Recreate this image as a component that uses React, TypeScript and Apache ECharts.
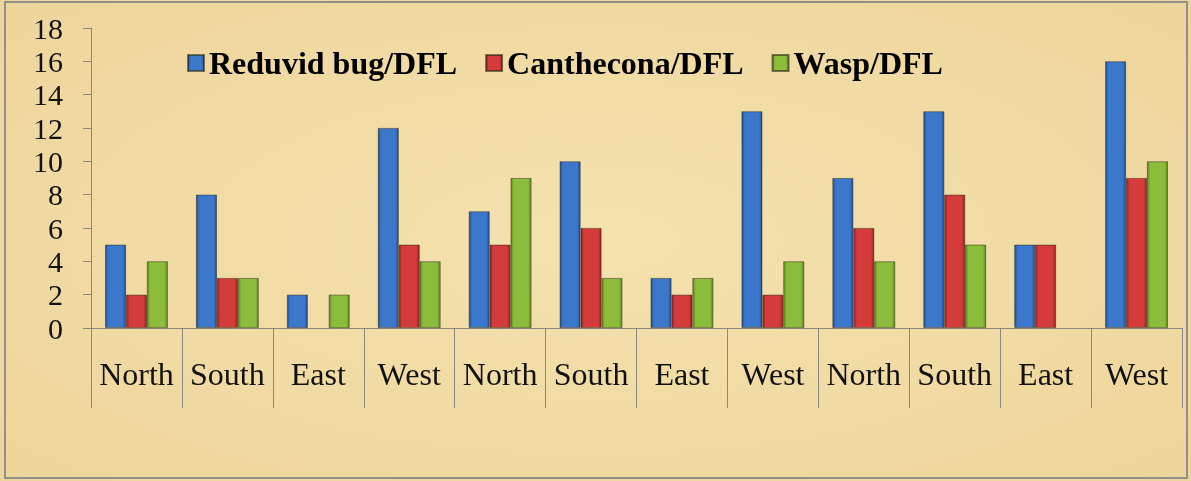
import React, { useEffect, useRef } from "react";
import * as echarts from "echarts";

const categories = ["North", "South", "East", "West", "North", "South", "East", "West", "North", "South", "East", "West"];
const reduvid = [5, 8, 2, 12, 7, 10, 3, 13, 9, 13, 5, 16];
const canthecona = [2, 3, 0, 5, 5, 6, 2, 2, 6, 8, 5, 9];
const wasp = [4, 3, 2, 4, 9, 3, 3, 4, 4, 5, 0, 10];
const seriesNames = ["Reduvid bug/DFL", "Canthecona/DFL", "Wasp/DFL"];

const serif = "'Liberation Serif', 'Times New Roman', serif";

function barGrad(dark: string, light: string) {
  return new echarts.graphic.LinearGradient(0, 0, 1, 0, [
    { offset: 0, color: dark },
    { offset: 0.15, color: light },
    { offset: 0.5, color: light },
    { offset: 0.85, color: light },
    { offset: 1, color: dark },
  ]);
}

export default function App() {
  const ref = useRef<HTMLDivElement>(null);
  useEffect(() => {
    if (!ref.current) return;
    const chart = echarts.init(ref.current, undefined, { renderer: "svg" });
    const colors = [
      { dark: "#1f4f98", light: "#3b78cc", sym: "#3a78cc" },
      { dark: "#9a1f22", light: "#d43b3b", sym: "#d23a3a" },
      { dark: "#5f8a1f", light: "#8cbc3c", sym: "#8cbc3c" },
    ];
    const datas = [reduvid, canthecona, wasp];
    chart.setOption({
      animation: false,
      backgroundColor: new echarts.graphic.RadialGradient(0.5, 0.5, 0.8, [
        { offset: 0, color: "#f5e2af" },
        { offset: 1, color: "#edd398" },
      ]),
      color: colors.map((c) => c.sym),
      graphic: [
        {
          type: "rect",
          shape: { x: 5, y: 2, width: 1182, height: 476 },
          style: { fill: "none", stroke: "#8f8f8f", lineWidth: 2 },
          silent: true,
        },
      ],
      legend: {
        left: 182,
        top: 42,
        itemWidth: 16,
        itemHeight: 16,
        itemGap: 28,
        icon: "rect",
        textStyle: { fontFamily: serif, fontWeight: "bold", fontSize: 32, color: "#000" },
        data: seriesNames,
      },
      grid: { left: 91, right: 9, top: 28, bottom: 153 },
      xAxis: {
        type: "category",
        data: categories,
        axisLine: { lineStyle: { color: "#8a8a80", width: 1 } },
        axisTick: { show: true, interval: 0, length: 80, lineStyle: { color: "#8a8a80" } },
        axisLabel: {
          interval: 0,
          fontFamily: serif,
          fontSize: 32,
          color: "#111",
          margin: 30,
        },
      },
      yAxis: {
        type: "value",
        min: 0,
        max: 18,
        interval: 2,
        axisLine: { show: true, lineStyle: { color: "#8a8a80" } },
        axisTick: { show: true, length: 8, lineStyle: { color: "#8a8a80" } },
        splitLine: { show: false },
        axisLabel: { fontFamily: serif, fontSize: 30, color: "#111", margin: 28 },
      },
      series: datas.map((d, i) => ({
        name: seriesNames[i],
        type: "bar",
        data: d.map((v) => (v === 0 ? null : v)),
        barGap: "0%",
        barCategoryGap: "31%",
        itemStyle: {
          color: barGrad(colors[i].dark, colors[i].light),
          borderColor: "rgba(40,40,20,0.6)",
          borderWidth: 0.8,
        },
      })),
    });
    return () => chart.dispose();
  }, []);
  return <div ref={ref} style={{ position: "fixed", left: 0, top: 0, width: 1191, height: 481 }} />;
}
